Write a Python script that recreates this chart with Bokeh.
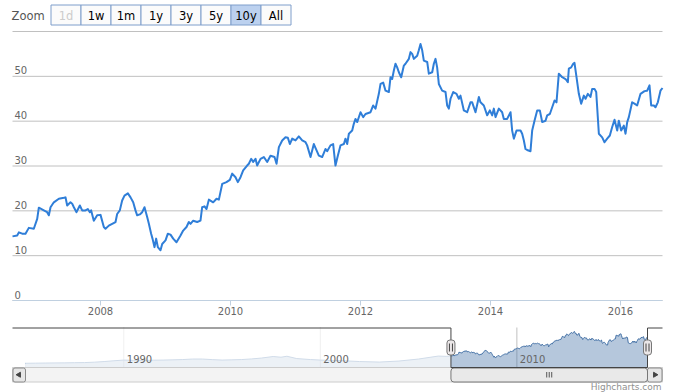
import math
from bokeh.plotting import figure
from bokeh.models import Range1d
from bokeh.core.properties import value
from bokeh.embed import file_html
from bokeh.resources import INLINE

# ---------------- data (decimal years, price) ----------------
dates = [
    2006.646, 2006.718, 2006.744, 2006.795, 2006.846, 2006.897, 2006.974,
    2007.026, 2007.051, 2007.128, 2007.179, 2007.205, 2007.231, 2007.282, 2007.359, 2007.436, 2007.462, 2007.487, 2007.538, 2007.564, 2007.590, 2007.631, 2007.682, 2007.718, 2007.769, 2007.805, 2007.836, 2007.856, 2007.897, 2007.949,
    2008.000, 2008.051, 2008.077, 2008.128, 2008.179, 2008.231, 2008.256, 2008.297, 2008.333, 2008.369, 2008.421, 2008.462, 2008.503, 2008.538, 2008.564, 2008.605, 2008.641, 2008.677, 2008.718, 2008.744, 2008.779, 2008.800, 2008.831, 2008.856, 2008.882, 2008.923, 2008.949,
    2009.000, 2009.036, 2009.077, 2009.118, 2009.169, 2009.231, 2009.272, 2009.323, 2009.359, 2009.385, 2009.426, 2009.487, 2009.538, 2009.564, 2009.600, 2009.631, 2009.667, 2009.733, 2009.785, 2009.821, 2009.872, 2009.938, 2009.990,
    2010.026, 2010.077, 2010.113, 2010.154, 2010.195, 2010.256, 2010.282, 2010.318, 2010.349, 2010.385, 2010.410, 2010.462, 2010.513, 2010.564, 2010.615, 2010.677, 2010.708, 2010.744, 2010.795, 2010.846, 2010.882, 2010.913, 2010.949,
    2011.000, 2011.051, 2011.103, 2011.154, 2011.179, 2011.231, 2011.282, 2011.359, 2011.410, 2011.462, 2011.487, 2011.538, 2011.579, 2011.615, 2011.651, 2011.692, 2011.744, 2011.769, 2011.795, 2011.821, 2011.872, 2011.897, 2011.923, 2011.949,
    2012.000, 2012.041, 2012.077, 2012.154, 2012.195, 2012.231, 2012.282, 2012.308, 2012.349, 2012.385, 2012.436, 2012.462, 2012.487, 2012.513, 2012.538, 2012.564, 2012.590, 2012.626, 2012.667, 2012.692, 2012.744, 2012.769, 2012.795, 2012.821, 2012.872, 2012.897, 2012.923, 2012.949, 2012.974,
    2013.026, 2013.051, 2013.103, 2013.128, 2013.154, 2013.179, 2013.205, 2013.256, 2013.308, 2013.333, 2013.359, 2013.385, 2013.426, 2013.477, 2013.513, 2013.538, 2013.590, 2013.641, 2013.692, 2013.718, 2013.769, 2013.821, 2013.846, 2013.897, 2013.949, 2013.990,
    2014.026, 2014.051, 2014.077, 2014.128, 2014.179, 2014.205, 2014.256, 2014.308, 2014.333, 2014.359, 2014.400, 2014.462, 2014.487, 2014.513, 2014.538, 2014.574, 2014.615, 2014.641, 2014.677, 2014.718, 2014.759, 2014.795, 2014.846, 2014.872, 2014.913, 2014.949, 2014.985,
    2015.015, 2015.051, 2015.103, 2015.154, 2015.190, 2015.205, 2015.241, 2015.272, 2015.292, 2015.323, 2015.359, 2015.395, 2015.436, 2015.462, 2015.497, 2015.538, 2015.564, 2015.600, 2015.626, 2015.667, 2015.718, 2015.754, 2015.795, 2015.836, 2015.872, 2015.908, 2015.949, 2015.974,
    2016.010, 2016.051, 2016.077, 2016.103, 2016.128, 2016.179, 2016.215, 2016.256, 2016.308, 2016.369, 2016.410, 2016.446, 2016.472, 2016.513, 2016.538, 2016.574, 2016.615, 2016.646,
]
prices = [
    14.3, 14.5, 15.2, 14.9, 14.9, 16.2, 16.0,
    18.2, 20.7, 20.1, 19.7, 19.0, 20.8, 21.9, 22.7, 22.9, 23.0, 21.2, 21.9, 21.6, 20.8, 19.7, 21.2, 20.1, 20.1, 20.4, 19.7, 20.1, 17.8, 19.0,
    19.1, 16.4, 16.0, 16.7, 17.1, 17.5, 19.3, 20.1, 22.3, 23.4, 23.9, 23.0, 21.9, 20.1, 19.0, 19.2, 19.7, 20.8, 18.6, 17.1, 14.9, 13.8, 11.9, 13.8, 11.9, 11.2, 12.6,
    13.4, 14.9, 14.7, 13.8, 13.0, 14.5, 15.6, 16.4, 17.5, 17.1, 17.8, 17.5, 17.8, 20.8, 21.0, 20.4, 22.5, 21.9, 22.7, 22.5, 26.0, 26.4, 26.9,
    28.3, 27.5, 26.4, 27.5, 29.0, 30.1, 30.5, 31.6, 30.9, 31.6, 30.1, 31.6, 32.0, 30.9, 32.3, 32.0, 30.5, 34.2, 35.7, 36.4, 36.3, 34.9, 36.1,
    35.7, 36.6, 35.7, 35.3, 34.6, 32.0, 34.9, 32.3, 32.0, 33.8, 33.3, 34.6, 34.9, 30.1, 32.3, 34.6, 34.9, 36.1, 34.9, 37.2, 37.9, 39.4, 40.5, 39.8,
    42.0, 40.9, 41.6, 42.0, 43.5, 42.8, 46.1, 48.3, 48.6, 46.8, 46.5, 49.8, 49.4, 51.3, 52.8, 52.0, 50.9, 49.8, 52.4, 52.8, 53.9, 55.4, 55.0, 53.9, 54.6, 55.8, 57.2, 55.8, 53.5,
    53.2, 50.6, 50.9, 52.8, 53.9, 52.0, 48.3, 46.8, 46.5, 43.5, 42.8, 45.0, 46.5, 46.1, 45.0, 45.7, 42.4, 42.0, 44.2, 44.2, 42.0, 45.4, 44.2, 43.5, 41.3, 42.4,
    41.3, 42.8, 40.9, 42.8, 42.0, 40.5, 40.5, 42.0, 37.9, 36.1, 37.9, 37.9, 37.2, 35.7, 33.8, 33.5, 33.3, 37.9, 40.1, 42.4, 42.4, 39.8, 40.1, 41.3, 41.6, 43.1, 44.6,
    44.2, 50.6, 49.8, 49.4, 48.7, 51.7, 52.0, 52.8, 53.0, 49.8, 46.1, 43.9, 45.7, 45.0, 46.1, 45.4, 47.2, 47.2, 46.5, 37.2, 36.4, 35.3, 36.1, 36.8, 38.7, 40.3, 37.9, 40.1,
    37.9, 39.0, 37.2, 39.8, 40.9, 44.2, 43.9, 43.5, 46.1, 46.7, 46.8, 48.0, 43.5, 43.5, 43.1, 44.2, 46.8, 47.4,
]
assert len(dates) == len(prices)

# earlier history shown only in the navigator
history_dates = [1985.0, 1985.5, 1986.0, 1986.5, 1987.0, 1987.5, 1988.0, 1988.5, 1989.0, 1989.5,
                 1990.0, 1990.5, 1991.0, 1991.5, 1992.0, 1992.5, 1993.0, 1993.5, 1994.0, 1994.5,
                 1995.0, 1995.5, 1996.0, 1996.5, 1997.0, 1997.6, 1998.0, 1998.3, 1998.8, 1999.5,
                 2000.0, 2000.5, 2001.0, 2002.0, 2003.0, 2004.0, 2005.0, 2006.0, 2006.4]
history_prices = [1.4, 1.6, 1.8, 2.0, 2.1, 2.4, 2.6, 3.3, 4.4, 5.8,
                  7.0, 6.5, 6.1, 6.8, 7.0, 7.4, 7.9, 8.8, 8.8, 7.8,
                  7.0, 7.4, 7.9, 9.0, 10.5, 13.2, 12.0, 13.7, 9.6, 7.9,
                  7.0, 6.5, 6.1, 4.4, 3.5, 5.3, 8.8, 14.0, 13.5]
assert len(history_dates) == len(history_prices)

x_ticks = [2008, 2010, 2012, 2014, 2016]
x_labels = ["2008", "2010", "2012", "2014", "2016"]
y_grid = [0, 10, 20, 30, 40, 50, 60]
y_ticks = [0, 10, 20, 30, 40, 50]
y_labels = ["0", "10", "20", "30", "40", "50"]
nav_ticks = [1990, 2000, 2010]
nav_labels = ["1990", "2000", "2010"]
buttons = ["1d", "1w", "1m", "1y", "3y", "5y", "10y", "All"]
selected_button = 6
disabled_buttons = [0]

# ---------------- layout constants (pixels from top-left) ----------------
W, H = 676, 392
FX0, FX1, FY0, FY1 = 0, W, 0, H
MAIN_L, MAIN_R, MAIN_T, MAIN_B = 12, 662, 31, 300
Y_MIN, Y_MAX = 0, 60
NAV_L, NAV_R, NAV_T, NAV_B = 25, 647, 327, 367
NAV_LO, NAV_HI = -6, 64
SB_T, SB_B = 367, 381.5

yr0, yr1 = dates[0], dates[-1]
nav_start = history_dates[0]

ppy = (MAIN_R - MAIN_L) / (yr1 - yr0)
sy = (MAIN_B - MAIN_T) / (Y_MAX - Y_MIN)
ppn = (NAV_R - NAV_L) / (yr1 - nav_start)
sn = (NAV_B - NAV_T) / (NAV_HI - NAV_LO)

FONT = value("DejaVu Sans")

p = figure(width=W, height=H, output_backend="svg", toolbar_location=None,
           x_range=Range1d(FX0, FX1), y_range=Range1d(FY1, FY0),
           x_axis_type=None, y_axis_type=None, min_border=0, title=None)
p.outline_line_color = None
p.background_fill_color = "white"
p.border_fill_color = "white"
p.extra_x_ranges = {
    "mx": Range1d(yr0 - (MAIN_L - FX0) / ppy, yr1 + (FX1 - MAIN_R) / ppy),
    "nx": Range1d(nav_start - (NAV_L - FX0) / ppn, yr1 + (FX1 - NAV_R) / ppn),
}
p.extra_y_ranges = {
    "my": Range1d(Y_MIN - (FY1 - MAIN_B) / sy, Y_MAX + (MAIN_T - FY0) / sy),
    "ny": Range1d(NAV_LO - (FY1 - NAV_B) / sn, NAV_HI + (NAV_T - FY0) / sn),
}

# ---------------- range selector ----------------
p.text(x=[11], y=[15.5], text=["Zoom"], text_font=FONT, text_font_size="11.5px",
       text_color="#555555", text_align="left", text_baseline="middle")
BTN_X0, BTN_W, BTN_T, BTN_B = 50.5, 30, 4.5, 24.5
for i, lab in enumerate(buttons):
    left = BTN_X0 + i * BTN_W
    fill = "#bcd1ef" if i == selected_button else "#fbfbfb"
    p.quad(left=[left], right=[left + BTN_W], top=[BTN_T], bottom=[BTN_B],
           fill_color=fill, line_color="#7f9ecb", line_width=1)
    col = "#cccccc" if i in disabled_buttons else "#000000"
    p.text(x=[left + BTN_W / 2], y=[(BTN_T + BTN_B) / 2 + 0.5], text=[lab], text_font=FONT,
           text_font_size="11.5px", text_color=col, text_align="center", text_baseline="middle")

# ---------------- main chart ----------------
p.segment(x0=[yr0] * len(y_grid), x1=[yr1] * len(y_grid), y0=y_grid, y1=y_grid,
          x_range_name="mx", y_range_name="my", line_color="#c0c0c0", line_width=1)
p.text(x=[14] * len(y_ticks), y=y_ticks, text=y_labels, y_range_name="my",
       text_font=FONT, text_font_size="10px", text_color="#666666",
       text_align="left", text_baseline="middle", y_offset=-6)
p.line(x=dates, y=prices, x_range_name="mx", y_range_name="my",
       line_color="#2f7ed8", line_width=2, line_join="round")
p.segment(x0=[yr0], x1=[yr1], y0=[Y_MIN], y1=[Y_MIN], x_range_name="mx", y_range_name="my",
          line_color="#c0d0e0", line_width=1)
p.segment(x0=x_ticks, x1=x_ticks, y0=[MAIN_B] * len(x_ticks), y1=[MAIN_B + 5] * len(x_ticks),
          x_range_name="mx", line_color="#c0d0e0", line_width=1)
p.text(x=x_ticks, y=[310] * len(x_ticks), text=x_labels, x_range_name="mx",
       text_font=FONT, text_font_size="10px", text_color="#666666",
       text_align="center", text_baseline="middle")

# ---------------- navigator ----------------
nav_x = history_dates + dates
nav_y = history_prices + prices
p.segment(x0=nav_ticks, x1=nav_ticks, y0=[NAV_LO] * 3, y1=[NAV_HI] * 3,
          x_range_name="nx", y_range_name="ny", line_color="#c0c0c0", line_width=1)
p.varea(x=nav_x, y1=NAV_LO, y2=nav_y, x_range_name="nx", y_range_name="ny",
        fill_color="#4572a7", fill_alpha=0.4)
p.line(x=nav_x, y=nav_y, x_range_name="nx", y_range_name="ny",
       line_color="#4572a7", line_width=1)
p.quad(left=[nav_start], right=[yr0], bottom=[NAV_LO], top=[NAV_HI],
       x_range_name="nx", y_range_name="ny", fill_color="white", fill_alpha=0.75, line_color=None)
p.text(x=nav_ticks, y=[NAV_B - 8.5] * 3, text=nav_labels, x_range_name="nx",
       text_font=FONT, text_font_size="10px", text_color="#666666",
       text_align="left", text_baseline="middle", x_offset=3)

sel_l = NAV_L + (yr0 - nav_start) * ppn
sel_r = NAV_L + (yr1 - nav_start) * ppn

# ---------------- scrollbar ----------------
p.quad(left=[MAIN_L], right=[MAIN_R], top=[SB_T], bottom=[SB_B],
       fill_color="#f3f3f3", line_color="#cccccc", line_width=1)
p.quad(left=[MAIN_L + 0.5], right=[NAV_L], top=[SB_T + 0.5], bottom=[SB_B],
       fill_color="#e6e6e6", line_color="#8a8a8a", line_width=1, border_radius=2)
p.quad(left=[NAV_R], right=[MAIN_R - 0.5], top=[SB_T + 0.5], bottom=[SB_B],
       fill_color="#e6e6e6", line_color="#8a8a8a", line_width=1, border_radius=2)
p.scatter(x=[(MAIN_L + NAV_L) / 2, (NAV_R + MAIN_R) / 2], y=[(SB_T + SB_B) / 2] * 2,
          marker="triangle", size=5, angle=[math.pi / 2, -math.pi / 2],
          fill_color="#444444", line_color="#444444")
p.quad(left=[sel_l], right=[sel_r], top=[SB_T + 0.5], bottom=[SB_B],
       fill_color="#e9e9e9", line_color="#777777", line_width=1, border_radius=3)
gx = (sel_l + sel_r) / 2
p.segment(x0=[gx - 2.5, gx, gx + 2.5], x1=[gx - 2.5, gx, gx + 2.5],
          y0=[SB_T + 4.5] * 3, y1=[SB_B - 4.5] * 3, line_color="#555555", line_width=1)

# navigator outline and handles
p.line(x=[MAIN_L, sel_l, sel_l, sel_r, sel_r, MAIN_R],
       y=[NAV_T + 0.5, NAV_T + 0.5, NAV_B, NAV_B, NAV_T + 0.5, NAV_T + 0.5],
       line_color="#444444", line_width=1)
hc = (NAV_T + NAV_B) / 2
for hx in (sel_l, sel_r):
    p.quad(left=[hx - 4], right=[hx + 4], top=[hc - 7.5], bottom=[hc + 7.5],
           fill_color="#ebe7e8", line_color="#777777", line_width=1, border_radius=3)
    p.segment(x0=[hx - 1.5, hx + 1.5], x1=[hx - 1.5, hx + 1.5], y0=[hc - 4] * 2, y1=[hc + 4] * 2,
              line_color="#444444", line_width=1)

# credits
p.text(x=[661], y=[386.5], text=["Highcharts.com"], text_font=FONT, text_font_size="9px",
       text_color="#909090", text_align="right", text_baseline="middle")

open("out.html", "w").write(file_html(p, INLINE))
